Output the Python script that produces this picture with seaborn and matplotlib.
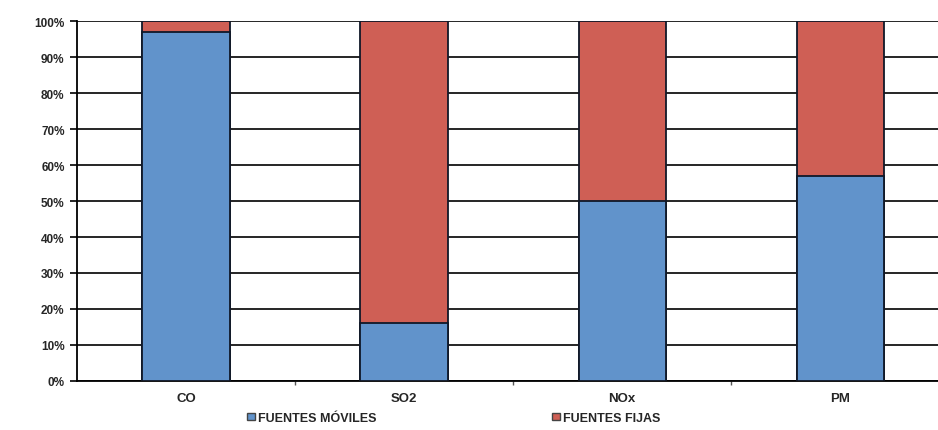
import pandas as pd
from matplotlib import pyplot as plt
from matplotlib.patches import Patch
import seaborn as sns

# Data (percent)
contaminantes = ["CO", "SO2", "NOx", "PM"]
fuentes_moviles = [97, 16, 50, 57]
fuentes_fijas = [3, 84, 50, 43]

azul = "#6193CB"
rojo = "#CF5F55"

df = pd.DataFrame({
    "contaminante": contaminantes,
    "moviles": fuentes_moviles,
    "total": [m + f for m, f in zip(fuentes_moviles, fuentes_fijas)],
})

sns.set_style("white")
plt.rcParams["font.family"] = ["Liberation Sans", "DejaVu Sans"]

fig = plt.figure(figsize=(9.38, 4.31), dpi=100)
ax = fig.add_axes([77 / 938, 1 - 382 / 431, 1 - 77 / 938 + 0.012, (382 - 22) / 431])

# stacked bars: full height in red, blue drawn over it
sns.barplot(data=df, x="contaminante", y="total", color=rojo, width=0.4,
            edgecolor="#101828", linewidth=1.3, saturation=1, ax=ax, zorder=3)
sns.barplot(data=df, x="contaminante", y="moviles", color=azul, width=0.4,
            edgecolor="#101828", linewidth=1.3, saturation=1, ax=ax, zorder=4)

ax.set_ylim(0, 100)
ax.set_xlim(-0.5, 3.5)
ax.set_yticks(range(0, 101, 10))
ax.set_yticklabels([f"{v}%" for v in range(0, 101, 10)], fontsize=8.5, fontweight="bold")
ax.set_xticklabels(contaminantes, fontsize=9.5, fontweight="bold")
ax.set_xlabel("")
ax.set_ylabel("")

ax.yaxis.grid(True, color="black", linewidth=1.2, zorder=0)
ax.set_axisbelow(True)
for s in ["top", "right"]:
    ax.spines[s].set_visible(False)
for s in ["left", "bottom"]:
    ax.spines[s].set_color("black")
    ax.spines[s].set_linewidth(1.3)

ax.tick_params(axis="y", length=5, width=1.2, color="black", left=True, pad=4)
ax.tick_params(axis="x", length=0, pad=8)
# small tick marks between categories
ax.set_xticks([0.5, 1.5, 2.5], minor=True)
ax.tick_params(axis="x", which="minor", length=3, width=1, color="#555555", bottom=True)

handles = [Patch(facecolor=azul, edgecolor="#444444", label="FUENTES MÓVILES"),
           Patch(facecolor=rojo, edgecolor="#444444", label="FUENTES FIJAS")]
leg = fig.legend(handles=handles, loc="lower left", bbox_to_anchor=(236 / 938, -0.012),
                 ncol=2, frameon=False, columnspacing=14,
                 handlelength=0.6, handleheight=0.6, handletextpad=0.3,
                 prop={"weight": "bold", "size": 9})

plt.savefig("out.png", dpi=100)
